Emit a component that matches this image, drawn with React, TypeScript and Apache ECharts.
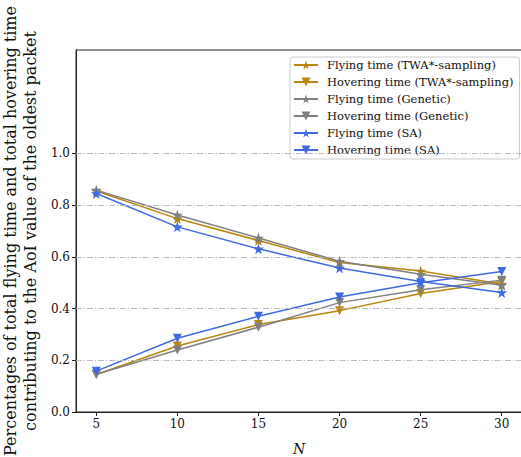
import React, { useEffect, useRef } from "react";
import * as echarts from "echarts";

const nValues = [5, 10, 15, 20, 25, 30];
const twaFlying = [0.855, 0.748, 0.663, 0.578, 0.545, 0.495];
const twaHovering = [0.145, 0.255, 0.338, 0.392, 0.458, 0.505];
const geneticFlying = [0.858, 0.762, 0.673, 0.583, 0.533, 0.49];
const geneticHovering = [0.146, 0.24, 0.328, 0.423, 0.473, 0.51];
const saFlying = [0.845, 0.716, 0.631, 0.557, 0.505, 0.462];
const saHovering = [0.158, 0.285, 0.37, 0.445, 0.5, 0.543];
const yTicks = [0, 0.2, 0.4, 0.6, 0.8, 1.0];
const gridValues = [0.2, 0.4, 0.6, 0.8, 1.0];

const STAR =
  "path://M0 -1 L0.223 -0.307 L0.951 -0.309 L0.361 0.117 L0.588 0.809 L0 0.38 L-0.588 0.809 L-0.361 0.117 L-0.951 -0.309 L-0.223 -0.307 Z";

const GOLD = "#b8860b";
const GREY = "#808080";
const BLUE = "#4169e1";
const FONT = "DejaVu Serif";

export default function App() {
  const ref = useRef<HTMLDivElement>(null);
  useEffect(() => {
    if (!ref.current) return;
    const chart = echarts.init(ref.current, undefined, { renderer: "svg" });
    const mk = (name: string, vals: number[], color: string, star: boolean) => ({
      name,
      type: "line",
      data: vals.map((v, i) => [nValues[i], v]),
      symbol: star ? STAR : "triangle",
      symbolSize: star ? 11 : 9,
      symbolRotate: star ? 0 : 180,
      lineStyle: { color, width: 1.5 },
      itemStyle: { color },
      color,
      z: 3,
    });
    chart.setOption({
      animation: false,
      grid: {
        left: 76,
        top: 50,
        width: 446,
        height: 362,
        outerBoundsMode: "none",
        containLabel: false,
        show: true,
        borderColor: "#222",
        borderWidth: 1,
        backgroundColor: "transparent",
      },
      legend: {
        data: [
          "Flying time (TWA*-sampling)",
          "Hovering time (TWA*-sampling)",
          "Flying time (Genetic)",
          "Hovering time (Genetic)",
          "Flying time (SA)",
          "Hovering time (SA)",
        ],
        orient: "vertical",
        left: 290,
        top: 57,
        padding: [2, 6, 3, 3],
        itemWidth: 24,
        itemHeight: 11,
        itemGap: 5,
        backgroundColor: "rgba(255,255,255,0.85)",
        borderColor: "#cccccc",
        borderWidth: 1,
        borderRadius: 3,
        textStyle: { fontFamily: FONT, fontSize: 11.5, color: "#111", padding: [0, 0, 0, 4] },
      },
      xAxis: {
        type: "value",
        min: 3.75,
        max: 31.25,
        name: "N",
        nameLocation: "middle",
        nameGap: 30,
        nameTextStyle: { fontFamily: FONT, fontSize: 14, fontStyle: "italic", color: "#111" },
        axisLine: { show: true, lineStyle: { color: "#222", width: 1 } },
        axisTick: { show: true, length: 4, customValues: nValues, lineStyle: { color: "#222" } },
        axisLabel: { customValues: nValues, fontFamily: FONT, fontSize: 12, color: "#111", margin: 6 },
        splitLine: { show: false },
      },
      yAxis: {
        type: "value",
        min: 0,
        max: 1.4,
        name: "Percentages of total flying time and total hovering time\ncontributing to the AoI value of the oldest packet",
        nameLocation: "middle",
        nameRotate: 90,
        nameGap: 29,
        nameTextStyle: { fontFamily: FONT, fontSize: 16, color: "#111", lineHeight: 20 },
        axisLine: { show: true, lineStyle: { color: "#222", width: 1 } },
        axisTick: { show: true, length: 4, customValues: yTicks, lineStyle: { color: "#222" } },
        axisLabel: {
          customValues: yTicks,
          fontFamily: FONT,
          fontSize: 12,
          color: "#111",
          margin: 6,
          formatter: (v: number) => v.toFixed(1),
        },
        splitLine: { show: false },
      },
      series: [
        {
          name: "grid",
          type: "line",
          data: [],
          silent: true,
          z: 1,
          markLine: {
            silent: true,
            symbol: "none",
            label: { show: false },
            lineStyle: { color: "#b5b5b5", width: 0.9, type: [6, 2, 1, 2] },
            data: gridValues.map((v) => ({ yAxis: v })),
          },
        },
        mk("Flying time (TWA*-sampling)", twaFlying, GOLD, true),
        mk("Hovering time (TWA*-sampling)", twaHovering, GOLD, false),
        mk("Flying time (Genetic)", geneticFlying, GREY, true),
        mk("Hovering time (Genetic)", geneticHovering, GREY, false),
        mk("Flying time (SA)", saFlying, BLUE, true),
        mk("Hovering time (SA)", saHovering, BLUE, false),
      ],
    });
    return () => chart.dispose();
  }, []);
  return <div ref={ref} style={{ width: 521, height: 457, position: "absolute", left: 0, top: 0 }} />;
}
